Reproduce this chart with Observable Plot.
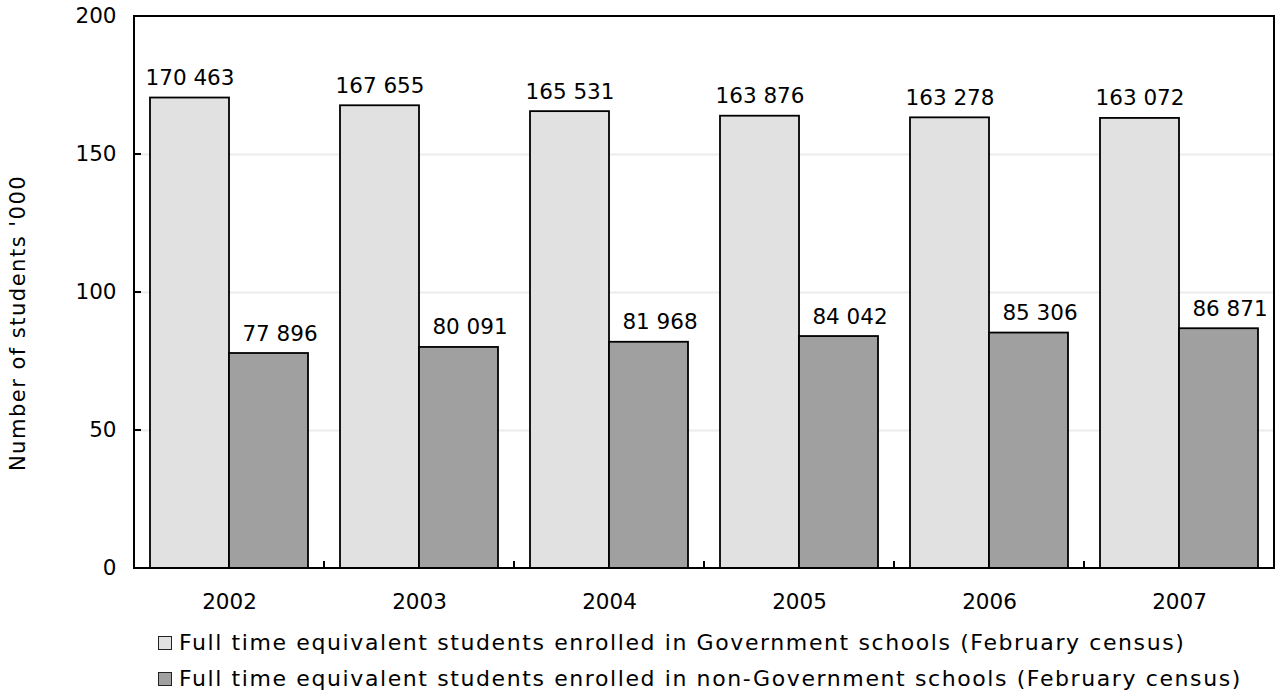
<!DOCTYPE html>
<html><head><meta charset="utf-8">
<script src="https://cdn.jsdelivr.net/npm/d3@7"></script>
<script src="https://cdn.jsdelivr.net/npm/@observablehq/plot@0.6"></script>
<style>
body{margin:0;background:#fff;font-family:"DejaVu Sans",Verdana,sans-serif;color:#000;}
#chart{position:relative;width:1281px;height:695px;overflow:hidden;}
#legend{position:absolute;left:158px;top:625px;font-size:22px;letter-spacing:1.6px;line-height:36px;white-space:nowrap;}
.row{position:relative;height:36px;padding-left:21px;}
.sw{position:absolute;left:0;top:11px;width:12px;height:12px;border:1.5px solid #222;}
</style></head><body><div id="chart"><div id="legend"></div></div>
<script>
const years = [2002, 2003, 2004, 2005, 2006, 2007];
const seriesKeys = ["gov", "nongov"];
const seriesLabels = [
  "Full time equivalent students enrolled in Government schools (February census)",
  "Full time equivalent students enrolled in non-Government schools (February census)"
];
const govValues = [170463, 167655, 165531, 163876, 163278, 163072];
const nonGovValues = [77896, 80091, 81968, 84042, 85306, 86871];
const yTicks = [0, 50, 100, 150, 200];
const yTitle = "Number of students '000";
const colors = ["#e1e1e1", "#a0a0a0"];

const data = years.flatMap((yr, i) => [
  {year: yr, series: "gov", value: govValues[i]},
  {year: yr, series: "nongov", value: nonGovValues[i]}
]);
const fmt = v => d3.format(",")(v).replace(/,/g, " ");

const plot = Plot.plot({
  width: 1281, height: 612,
  marginLeft: 133, marginRight: 6, marginTop: 16, marginBottom: 44,
  style: {fontFamily: "DejaVu Sans, Verdana, sans-serif", fontSize: "21.5px", color: "#000", background: "#fff", overflow: "visible"},
  fx: {domain: years, padding: 0, label: null, axis: "bottom", tickSize: 0, tickPadding: 25, tickFormat: d => String(d)},
  x: {domain: seriesKeys, paddingInner: 0, paddingOuter: 0.2, axis: null},
  y: {domain: [0, 200], ticks: yTicks, label: null, tickSize: 0, tickPadding: 18},
  color: {domain: seriesKeys, range: colors},
  marks: [
    Plot.gridY(yTicks.slice(1, -1), {stroke: "#ececec", strokeOpacity: 1, strokeWidth: 2}),
    Plot.barY(data, {fx: "year", x: "series", y: d => d.value / 1000, fill: "series", stroke: "#000", strokeWidth: 1.8}),
    Plot.text(data.filter(d => d.series === "gov"), {fx: "year", x: "series", y: d => d.value / 1000, text: d => fmt(d.value), lineAnchor: "bottom", dy: -13, fill: "#000"}),
    Plot.text(data.filter(d => d.series === "nongov"), {fx: "year", x: "series", y: d => d.value / 1000, text: d => fmt(d.value), lineAnchor: "bottom", dy: -13, dx: 11, fill: "#000"})
  ]
});

document.getElementById("chart").prepend(plot);

// frame, inward ticks and axis title derived from the plot's scales
const fx = plot.scale("fx"), y = plot.scale("y");
const x0 = fx.apply(years[0]), x1 = fx.apply(years[years.length - 1]) + fx.bandwidth;
const yTop = y.apply(200), yBot = y.apply(0);
const svg = d3.select(plot);
const g = svg.append("g").attr("stroke", "#000").attr("fill", "none");
g.append("rect").attr("x", x0).attr("y", yTop).attr("width", x1 - x0).attr("height", yBot - yTop).attr("stroke-width", 2);
yTicks.forEach(t => g.append("line").attr("x1", x0).attr("x2", x0 + 7).attr("y1", y.apply(t)).attr("y2", y.apply(t)).attr("stroke-width", 2));
years.slice(1).forEach(yr => g.append("line").attr("x1", fx.apply(yr)).attr("x2", fx.apply(yr)).attr("y1", yBot).attr("y2", yBot - 7).attr("stroke-width", 2));
svg.append("text").attr("transform", `translate(18,${(yTop + yBot) / 2 + 31}) rotate(-90)`)
  .attr("text-anchor", "middle").attr("dominant-baseline", "central").attr("fill", "#000")
  .style("font-size", "21px").style("letter-spacing", "1.5px").text(yTitle);

const legend = d3.select("#legend");
seriesLabels.forEach((lab, i) => {
  const row = legend.append("div").attr("class", "row");
  row.append("span").attr("class", "sw").style("background", colors[i]);
  row.append("span").text(lab);
});
</script></body></html>
